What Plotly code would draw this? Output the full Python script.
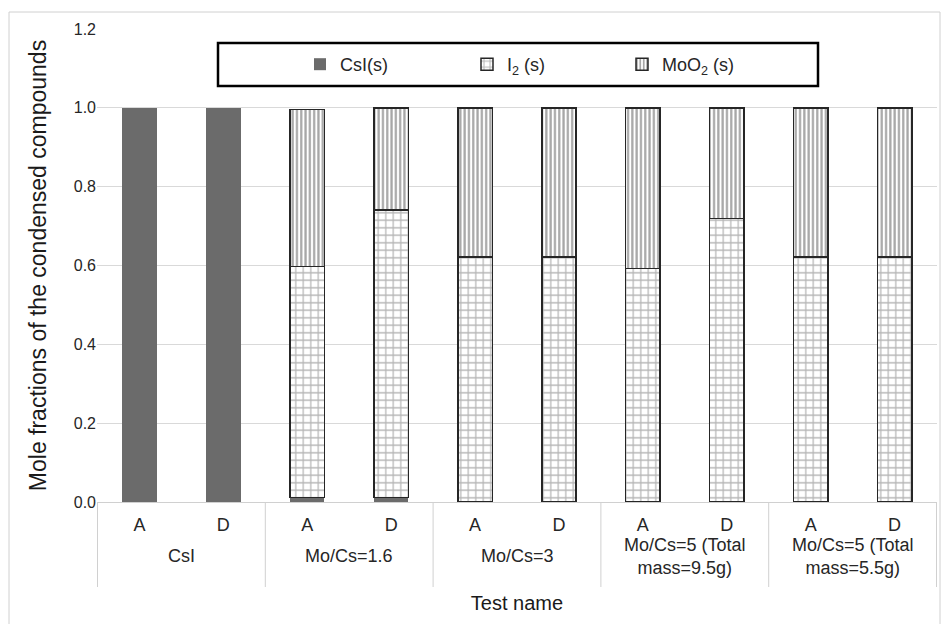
import plotly.graph_objects as go

groups = ["CsI", "CsI", "Mo/Cs=1.6", "Mo/Cs=1.6", "Mo/Cs=3", "Mo/Cs=3",
          "Mo/Cs=5 (Total<br>mass=9.5g)", "Mo/Cs=5 (Total<br>mass=9.5g)",
          "Mo/Cs=5 (Total<br>mass=5.5g)", "Mo/Cs=5 (Total<br>mass=5.5g)"]
tests = ["A", "D", "A", "D", "A", "D", "A", "D", "A", "D"]

csi = [1.0, 1.0, 0.012, 0.012, None, None, None, None, None, None]
i2 = [None, None, 0.586, 0.729, 0.621, 0.621, 0.593, 0.719, 0.621, 0.621]
moo2 = [None, None, 0.398, 0.259, 0.379, 0.379, 0.407, 0.281, 0.379, 0.379]

FONT = "Liberation Sans, Arial, sans-serif"
cats = [f"{g}|{t}" for g, t in zip(groups, tests)]

L, R, T, B = 97, 7, 29, 122
PW, PH = 944 - L - R, 624 - T - B


def px_x(v):
    return (v - L) / PW


def px_y(v):
    return (624 - B - v) / PH


fig = go.Figure()
fig.add_trace(go.Bar(
    x=cats, y=csi, name="CsI(s)", legend="legend",
    marker=dict(color="#6b6b6b", line=dict(width=0)),
))
fig.add_trace(go.Bar(
    x=cats, y=i2, name="I<sub>2</sub> (s)", legend="legend2",
    marker=dict(color="white", line=dict(color="#262626", width=1.5),
                pattern=dict(shape="+", fgcolor="#6a6a6a", bgcolor="white",
                             size=7.5, solidity=0.3)),
))
fig.add_trace(go.Bar(
    x=cats, y=moo2, name="MoO<sub>2</sub> (s)", legend="legend3",
    marker=dict(color="white", line=dict(color="#262626", width=1.5),
                pattern=dict(shape="|", fgcolor="#4d4d4d", bgcolor="white",
                             size=4.3, solidity=0.52)),
))

leg_common = dict(orientation="h", yanchor="middle", xanchor="left",
                  bgcolor="rgba(0,0,0,0)", borderwidth=0,
                  font=dict(family=FONT, size=18, color="#262626"))
leg_y = px_y(64.5)

unique_groups = []
for g in groups:
    if g not in unique_groups:
        unique_groups.append(g)

annotations = []
shapes = [
    dict(type="rect", xref="paper", yref="paper",
         x0=px_x(9), x1=px_x(940), y0=px_y(640), y1=px_y(12),
         line=dict(color="#d0d0d0", width=1), fillcolor="rgba(0,0,0,0)",
         layer="below"),
    dict(type="rect", xref="paper", yref="paper",
         x0=px_x(218), x1=px_x(818), y0=px_y(86), y1=px_y(43),
         line=dict(color="black", width=2.5), fillcolor="white",
         layer="above"),
]
for g in unique_groups:
    idx = [i for i, gg in enumerate(groups) if gg == g]
    center = (idx[0] + idx[-1]) / 2
    annotations.append(dict(
        x=center, xref="x", y=px_y(556), yref="paper",
        text=g, showarrow=False, yanchor="middle", xanchor="center",
        align="center", font=dict(family=FONT, size=18, color="#262626"),
    ))
    shapes.append(dict(type="line", xref="x", yref="paper",
                       x0=idx[0] - 0.5, x1=idx[0] - 0.5, y0=0, y1=px_y(587),
                       line=dict(color="#d0d0d0", width=1)))
shapes.append(dict(type="line", xref="x", yref="paper",
                   x0=len(groups) - 0.5, x1=len(groups) - 0.5, y0=0, y1=px_y(587),
                   line=dict(color="#d0d0d0", width=1)))

fig.update_layout(
    barmode="stack",
    bargap=0.59,
    width=944, height=624,
    margin=dict(l=L, r=R, t=T, b=B),
    paper_bgcolor="white", plot_bgcolor="white",
    font=dict(family=FONT, size=17, color="#262626"),
    showlegend=True,
    legend=dict(x=px_x(300), y=leg_y, **leg_common),
    legend2=dict(x=px_x(467), y=leg_y, **leg_common),
    legend3=dict(x=px_x(622), y=leg_y, **leg_common),
    xaxis=dict(
        type="category",
        tickvals=cats, ticktext=tests,
        showgrid=False,
        showline=True, linecolor="#d0d0d0", linewidth=1,
        ticks="", ticklabelstandoff=6,
        tickfont=dict(family=FONT, size=18, color="#262626"),
        title=dict(text="Test name", font=dict(family=FONT, size=20, color="#1a1a1a"),
                   standoff=62),
    ),
    yaxis=dict(
        range=[0, 1.2], dtick=0.2, tickformat=".1f",
        showgrid=True, gridcolor="#d9d9d9", gridwidth=1,
        zeroline=False, showline=False, ticks="",
        tickfont=dict(family=FONT, size=16, color="#262626"),
        title=dict(text="Mole fractions of the condensed compounds",
                   font=dict(family=FONT, size=23, color="#1a1a1a"), standoff=20),
    ),
    shapes=shapes,
    annotations=annotations,
)

fig.write_html("out.html", config={"displayModeBar": False},
               post_script="document.body.style.margin='0';")
